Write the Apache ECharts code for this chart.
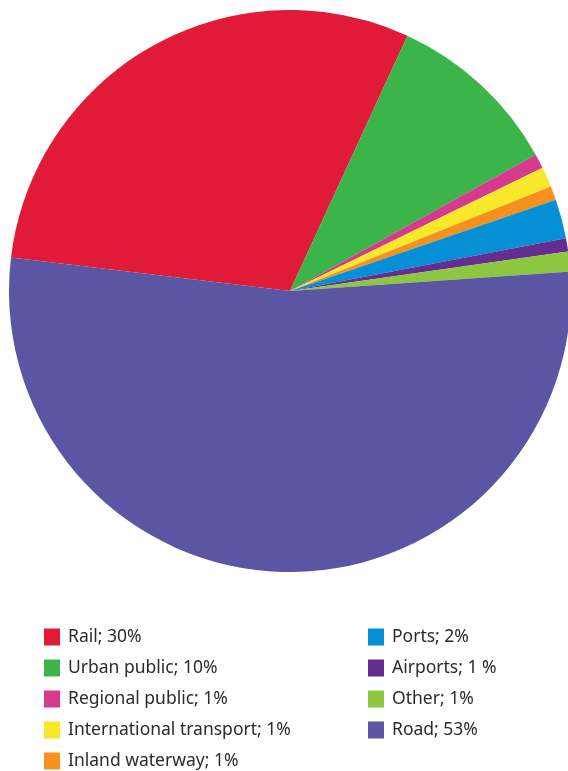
<!DOCTYPE html>
<html><head><meta charset="utf-8">
<script src="https://cdn.jsdelivr.net/npm/echarts@6/dist/echarts.min.js"></script>
<style>html,body{margin:0;padding:0;background:#fff}#c{width:568px;height:771px}</style>
</head><body><div id="c"></div>
<script>
const categories = ["Rail", "Urban public", "Regional public", "International transport", "Inland waterway", "Ports", "Airports", "Other", "Road"];
const values = [29.96, 10.08, 0.84, 1.15, 0.81, 2.25, 0.77, 1.14, 53.0];
const legendLabels = ["Rail; 30%", "Urban public; 10%", "Regional public; 1%", "International transport; 1%", "Inland waterway; 1%", "Ports; 2%", "Airports; 1 %", "Other; 1%", "Road; 53%"];
const colors = ["#e11b37", "#3bb44a", "#d63a8f", "#f7e92a", "#f6911e", "#0590d6", "#662d90", "#8dc63f", "#5b56a4"];

const labelMap = {};
categories.forEach((c, i) => labelMap[c] = legendLabels[i]);

const chart = echarts.init(document.getElementById('c'), null, {renderer: 'canvas'});
const legendBase = {
  orient: 'vertical',
  icon: 'rect',
  itemWidth: 16,
  itemHeight: 17,
  itemGap: 13,
  padding: 0,
  height: 200,
  selectedMode: false,
  formatter: n => labelMap[n],
  textStyle: {fontFamily: 'Noto Sans', fontSize: 17.5, color: '#2b2b2b', lineHeight: 17, padding: [0, 0, 0, 3]}
};
chart.setOption({
  animation: false,
  color: colors,
  legend: [
    Object.assign({}, legendBase, {left: 44, top: 628, data: categories.slice(0, 5)}),
    Object.assign({}, legendBase, {left: 368, top: 628, data: categories.slice(5)})
  ],
  series: [{
    type: 'pie',
    center: [290, 291],
    radius: [0, 281],
    startAngle: 173.16,
    clockwise: true,
    label: {show: false},
    labelLine: {show: false},
    emphasis: {disabled: true},
    itemStyle: {borderWidth: 0},
    data: categories.map((c, i) => ({name: c, value: values[i]}))
  }]
});
</script></body></html>
